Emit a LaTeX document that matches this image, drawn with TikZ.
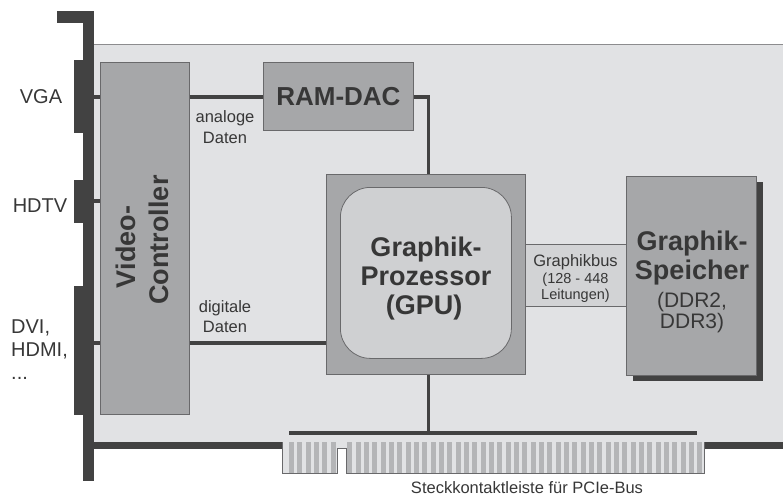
\documentclass[tikz,border=0pt]{standalone}
\usepackage{fontspec}
\setmainfont{Liberation Sans}
\usetikzlibrary{calc}
\definecolor{dark}{RGB}{66,66,66}
\definecolor{board}{RGB}{225,226,228}
\definecolor{boardedge}{RGB}{140,140,142}
\definecolor{boxfill}{RGB}{166,167,169}
\definecolor{boxborder}{RGB}{105,105,107}
\definecolor{innerfill}{RGB}{207,208,210}
\definecolor{busfill}{RGB}{210,211,213}
\definecolor{stripe}{RGB}{180,181,183}
\definecolor{txt}{RGB}{55,55,55}
\begin{document}
\begin{tikzpicture}[x=1pt,y=-1pt,
  box/.style={draw=boxborder, line width=0.8pt, fill=boxfill, inner sep=0pt, anchor=north west},
  wire/.style={draw=dark, line width=3.5pt},
  lab/.style={text=txt, inner sep=0pt, anchor=base},
  port/.style={font=\fontsize{20}{22}\selectfont},
  small/.style={font=\fontsize{16.5}{19}\selectfont},
  tiny/.style={font=\fontsize{14.5}{16}\selectfont},
  big/.style={font=\fontsize{27}{29}\selectfont\bfseries},
  mid/.style={font=\fontsize{21}{23}\selectfont}]
\useasboundingbox (0,0) rectangle (783,497);
% board
\fill[board] (94,44) rectangle (783,442);
\draw[boardedge, line width=1.6pt] (94,44.5) -- (783,44.5);
\fill[dark] (94,442) rectangle (282,449);
\fill[dark] (704,442) rectangle (783,449);
% bracket
\fill[dark] (57,11) rectangle (94,23);
\fill[dark] (83,11) rectangle (94,481);
\fill[dark] (74,60) rectangle (94,133);
\fill[dark] (74,180) rectangle (94,223);
\fill[dark] (74,286) rectangle (94,415);
\coordinate (pVGA) at (94,97);
\coordinate (pHDTV) at (94,201);
\coordinate (pDVI) at (94,343);
% port labels
\node[lab,port] (lvga) at (41,104) {VGA};
\node[lab,port] (lhdtv) at (40,212) {HDTV};
\node[lab,port,anchor=base west] (ldvi1) at (11,333) {DVI,};
\node[lab,port,anchor=base west] (ldvi2) at (11,356) {HDMI,};
\node[lab,port,anchor=base west] (ldvi3) at (11,379) {...};
% connector (edge contacts)
\fill[board] (282,442) rectangle (704,473);
\foreach \k in {0,...,5,7,8,...,49}
  \fill[stripe] ({289+\k*8.333},442) rectangle ++(5,31);
\fill[white] (337,448) rectangle (346,474);
\draw[boxborder, line width=0.8pt] (282,442) -- (282,473) -- (337,473) -- (337,448) -- (346,448) -- (346,473) -- (704,473) -- (704,442);
\node[lab,small] (lpcie) at (527,493) {Steckkontaktleiste für PCIe-Bus};
% boxes
\node[box, minimum width=89pt, minimum height=352pt] (vc) at (100,62) {};
\node[box, minimum width=150pt, minimum height=68pt] (ram) at (263,62) {};
\node[text=txt, font=\fontsize{26}{28}\selectfont\bfseries] (ramt) at (ram.center) {RAM-DAC};
\node[box, minimum width=199pt, minimum height=200pt] (gpu) at (326,174) {};
\node[draw=boxborder, line width=0.8pt, fill=innerfill, rounded corners=30pt, minimum width=171pt, minimum height=171pt, anchor=north west] (gpuin) at (340,187) {};
\node[box, fill=busfill, minimum width=101pt, minimum height=62pt] (bus) at (525,244) {};
\fill[dark] (633,182) rectangle (763,381);
\node[box, minimum width=130pt, minimum height=199pt] (mem) at (626,176) {};
% texts in boxes
\node[lab,big,rotate=90] (vct1) at (135,247) {Video-};
\node[lab,big,rotate=90] (vct2) at (168,240) {Controller};
\node[lab,big] (g1) at (426,256) {Graphik-};
\node[lab,big] (g2) at (426,285) {Prozessor};
\node[lab,big] (g3) at (424,314) {(GPU)};
\node[lab,small] (b1) at (575.5,266) {Graphikbus};
\node[lab,tiny] (b2) at (575.5,283) {(128 - 448};
\node[lab,tiny] (b3) at (575.5,299) {Leitungen)};
\node[lab,big] (m1) at (692,250) {Graphik-};
\node[lab,big] (m2) at (692,279) {Speicher};
\node[lab,mid] (m3) at (692,307) {(DDR2,};
\node[lab,mid] (m4) at (692,328) {DDR3)};
\node[lab,small] (la1) at (225,123) {analoge};
\node[lab,small] (la2) at (225,143) {Daten};
\node[lab,small] (ld1) at (225,312.5) {digitale};
\node[lab,small] (ld2) at (225,332) {Daten};
% wires
\draw[wire] (pVGA) -- (pVGA -| vc.west);
\draw[wire] (pHDTV) -- (pHDTV -| vc.west);
\draw[wire] (pDVI) -- (pDVI -| vc.west);
\draw[wire] (pVGA -| vc.east) -- (pVGA -| ram.west);
\draw[wire] (pVGA -| ram.east) -| ([xshift=2.5pt]gpu.north);
\draw[wire] (pDVI -| vc.east) -- (pDVI -| gpu.west);
\coordinate (busL) at (291,433);
\coordinate (busR) at (695,433);
\draw[wire] ([xshift=2.5pt]gpu.south) -- ([xshift=2.5pt]gpu.south |- busL);
\draw[wire, line cap=rect] (busL) -- (busR);
\end{tikzpicture}
\end{document}
